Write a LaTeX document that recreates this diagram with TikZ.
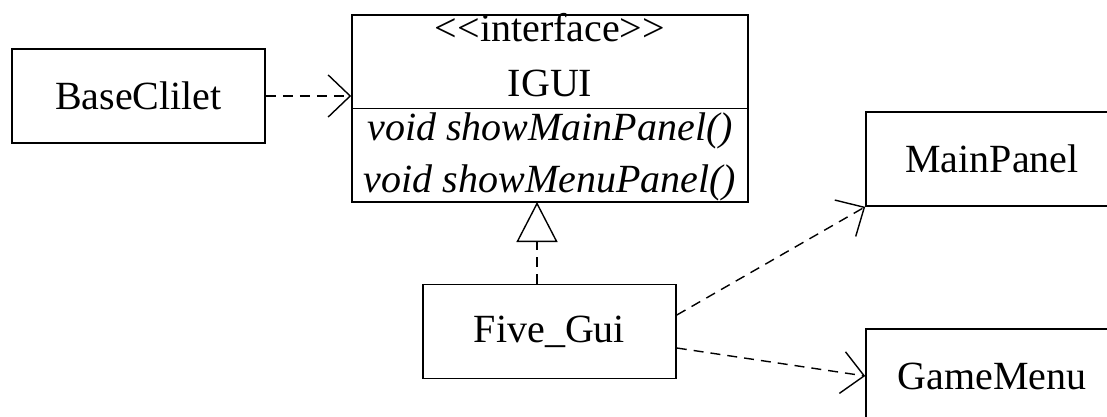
\documentclass[tikz,border=0pt]{standalone}
\usepackage{fontspec}
\setmainfont{Liberation Serif}
\usetikzlibrary{arrows.meta,calc}
\begin{document}
\begin{tikzpicture}[x=1pt,y=-1pt,
  lbl/.style={font=\fontsize{40}{48}\selectfont, inner sep=0pt},
  classbox/.style={draw, line width=1.6pt, inner sep=0pt, font=\fontsize{40}{48}\selectfont,
    minimum width=253pt, minimum height=94pt},
  depend/.style={line width=1.4pt, dash pattern=on 10pt off 7pt,
    -{Straight Barb[length=22pt, width=42pt, line width=1.4pt]}},
  realize/.style={line width=1.4pt, dash pattern=on 10pt off 7pt,
    -{Triangle[open, length=40pt, width=41pt, line width=1.4pt, fill=white]}}
]
\useasboundingbox (0,0) rectangle (1107,417);

% plain classes
\node[classbox] (base) at (138.5,96) {BaseClilet};
\node[classbox] (fg) at (549.5,331.5) {Five\_Gui};
\node[classbox, minimum width=252pt] (mp) at (992,159) {MainPanel};
\node[classbox, minimum width=252pt] (gm) at (992,376) {GameMenu};

% the interface with its operation compartment
\node[draw, line width=1.6pt, minimum width=396pt, minimum height=187pt, inner sep=0pt] (igui) at (550,108.5) {};
\draw[line width=1.6pt] (igui.west) -- (igui.east);
\node[lbl, anchor=base] (stereo) at (550,42) {{<}{<}interface{>}{>}};
\node[lbl, anchor=base] (name) at (550,97) {IGUI};
\node[lbl, anchor=base] (op1) at (550,140) {\itshape void showMainPanel()};
\node[lbl, anchor=base] (op2) at (550,192) {\itshape void showMenuPanel()};

% relations
\coordinate (gen) at (537,202);
\draw[depend] (base.east) -- (igui.west |- base.east);
\draw[realize] (gen |- fg.north) -- (gen);
\draw[depend] ([yshift=16.5pt]fg.east) -- (mp.south west);
\draw[depend] ([yshift=-16.5pt]fg.east) -- (gm.west);
\end{tikzpicture}
\end{document}
